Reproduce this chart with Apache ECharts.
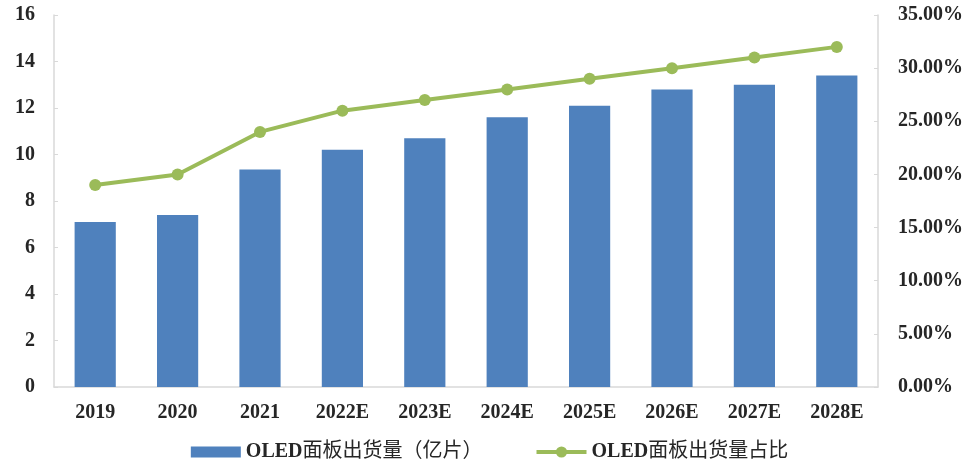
<!DOCTYPE html>
<html>
<head>
<meta charset="utf-8">
<script src="https://cdn.jsdelivr.net/npm/echarts@6/dist/echarts.min.js"></script>
<style>
  html, body { margin: 0; padding: 0; background: #fff; }
  #chart { width: 979px; height: 470px; }
</style>
</head>
<body>
<div id="chart"></div>
<script>
// OLED panel shipments (100M units) and share of total panel shipments
const years = ['2019', '2020', '2021', '2022E', '2023E', '2024E', '2025E', '2026E', '2027E', '2028E'];
const shipments = [7.1, 7.4, 9.35, 10.2, 10.7, 11.6, 12.1, 12.8, 13.0, 13.4];
const sharePct = [19, 20, 24, 26, 27, 28, 29, 30, 31, 32];
const leftTicks = { min: 0, max: 16, interval: 2 };
const rightTicks = { min: 0, max: 35, interval: 5 };
const barName = 'OLED面板出货量（亿片）';
const lineName = 'OLED面板出货量占比';

const FONT = '"Liberation Serif", "Noto Sans CJK SC", serif';
const TEXT = '#262626';
const AXIS = '#d9d9d9';
const BAR = '#4f81bd';
const LINE = '#9bbb59';

const labelStyle = { color: TEXT, fontSize: 20, fontWeight: 'bold', fontFamily: FONT };

const chart = echarts.init(document.getElementById('chart'));
chart.setOption({
  animation: false,
  textStyle: { fontFamily: FONT },
  grid: { left: 54, right: 101, top: 15, bottom: 83 },
  legend: {
    bottom: 3,
    left: 'center',
    itemWidth: 50,
    itemHeight: 14,
    itemGap: 52,
    // Latin part in bold serif, Chinese part in regular weight
    formatter: name => {
      const m = name.match(/^([A-Za-z]+)(.*)$/);
      return m ? '{a|' + m[1] + '}{b|' + m[2] + '}' : name;
    },
    textStyle: {
      color: TEXT,
      fontFamily: FONT,
      fontSize: 20,
      rich: {
        a: { color: TEXT, fontFamily: FONT, fontSize: 20, fontWeight: 'bold' },
        b: { color: TEXT, fontFamily: FONT, fontSize: 20, fontWeight: 'normal' }
      }
    },
    data: [
      { name: barName, icon: 'path://M0,0 H45 V10 H0 Z' },
      { name: lineName, lineStyle: { width: 4 } }
    ]
  },
  xAxis: {
    type: 'category',
    data: years,
    axisLine: { lineStyle: { color: AXIS, width: 1.5 } },
    axisTick: { show: false },
    axisLabel: Object.assign({ margin: 16 }, labelStyle)
  },
  yAxis: [
    {
      type: 'value',
      min: leftTicks.min, max: leftTicks.max, interval: leftTicks.interval,
      axisLine: { show: true, lineStyle: { color: AXIS, width: 1.5 } },
      axisTick: { show: true, inside: true, length: 4, lineStyle: { color: AXIS } },
      splitLine: { show: false },
      axisLabel: Object.assign({ margin: 19 }, labelStyle)
    },
    {
      type: 'value',
      min: rightTicks.min, max: rightTicks.max, interval: rightTicks.interval,
      position: 'right',
      axisLine: { show: true, lineStyle: { color: AXIS, width: 1.5 } },
      axisTick: { show: true, inside: true, length: 4, lineStyle: { color: AXIS } },
      splitLine: { show: false },
      axisLabel: Object.assign({ margin: 20, formatter: v => v.toFixed(2) + '%' }, labelStyle)
    }
  ],
  series: [
    {
      name: barName,
      type: 'bar',
      data: shipments,
      barWidth: '50%',
      itemStyle: { color: BAR }
    },
    {
      name: lineName,
      type: 'line',
      yAxisIndex: 1,
      data: sharePct,
      symbol: 'circle',
      symbolSize: 12,
      lineStyle: { color: LINE, width: 4 },
      itemStyle: { color: LINE }
    }
  ]
});
</script>
</body>
</html>
